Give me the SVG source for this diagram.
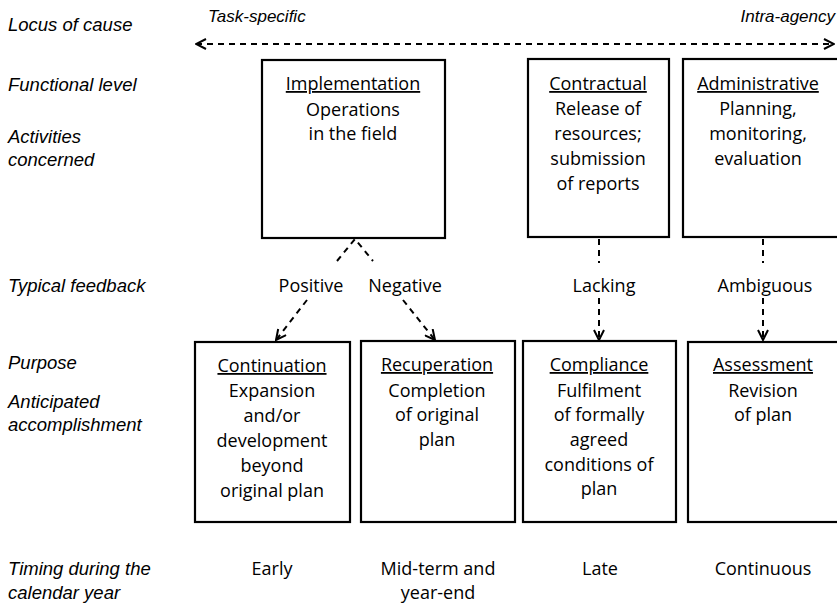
<svg xmlns="http://www.w3.org/2000/svg" width="837" height="604" viewBox="0 0 837 604">
<defs>
<style>
text{font-family:"Open Sans","Liberation Sans",Arial,sans-serif;font-size:18px;fill:#000}
.lab{font-family:"Liberation Sans",Arial,sans-serif;font-size:18.5px;font-style:italic;text-anchor:start}
.sm{font-size:17px}
.end{text-anchor:end}
.c{text-anchor:middle}
.u{text-decoration:underline}
.box{fill:#fff;stroke:#000;stroke-width:2.2}
.dash{fill:none;stroke:#000;stroke-width:2;stroke-dasharray:6,5}
</style>
<marker id="ah" viewBox="0 0 12 12" refX="11" refY="6" markerWidth="12" markerHeight="12" markerUnits="userSpaceOnUse" orient="auto-start-reverse">
<path d="M1,1 L11,6 L1,11" fill="none" stroke="#000" stroke-width="2"/>
</marker>
</defs>
<rect width="837" height="604" fill="#fff"/>
<g id="row-labels">
<text class="lab" x="8" y="31">Locus of cause</text>
<text class="lab" x="8" y="91">Functional level</text>
<text class="lab" x="8" y="143">Activities</text>
<text class="lab" x="8" y="166">concerned</text>
<text class="lab" x="8" y="292">Typical feedback</text>
<text class="lab" x="8" y="369">Purpose</text>
<text class="lab" x="8" y="408">Anticipated</text>
<text class="lab" x="8" y="431">accomplishment</text>
<text class="lab" x="8" y="575">Timing during the</text>
<text class="lab" x="8" y="599">calendar year</text>
<text class="lab sm" x="208" y="22">Task-specific</text>
<text class="lab sm end" x="835" y="22">Intra-agency</text>
</g>
<g id="connectors">
<line class="dash" x1="196" y1="44" x2="834" y2="44" stroke-dasharray="10,5" marker-start="url(#ah)" marker-end="url(#ah)"/>
<polyline class="dash" points="337,261 355,239 373,261"/>
<line class="dash" x1="307" y1="300" x2="276" y2="340" marker-end="url(#ah)"/>
<line class="dash" x1="403" y1="300" x2="435" y2="340" marker-end="url(#ah)"/>
<line class="dash" x1="599" y1="239" x2="599" y2="263"/>
<line class="dash" x1="599" y1="298" x2="599" y2="340" marker-end="url(#ah)"/>
<line class="dash" x1="763" y1="239" x2="763" y2="263"/>
<line class="dash" x1="763" y1="298" x2="763" y2="340" marker-end="url(#ah)"/>
</g>
<g id="feedback-labels">
<text class="c" x="311" y="292">Positive</text>
<text class="c" x="405" y="292">Negative</text>
<text class="c" x="604" y="292">Lacking</text>
<text class="c" x="765" y="292">Ambiguous</text>
</g>
<g id="implementation">
<rect class="box" x="262" y="60" width="183" height="178"/>
<text class="c u" x="353" y="90">Implementation</text>
<text class="c" x="353" y="116">Operations</text>
<text class="c" x="353" y="140">in the field</text>
</g>
<g id="contractual">
<rect class="box" x="528" y="59" width="141" height="178"/>
<text class="c u" x="598" y="90">Contractual</text>
<text class="c" x="598" y="115">Release of</text>
<text class="c" x="598" y="140">resources;</text>
<text class="c" x="598" y="165">submission</text>
<text class="c" x="598" y="190">of reports</text>
</g>
<g id="administrative">
<rect class="box" x="683" y="59" width="160" height="178"/>
<text class="c u" x="758" y="90">Administrative</text>
<text class="c" x="758" y="115">Planning,</text>
<text class="c" x="758" y="140">monitoring,</text>
<text class="c" x="758" y="165">evaluation</text>
</g>
<g id="continuation">
<rect class="box" x="195" y="342" width="155" height="180"/>
<text class="c u" x="272" y="372">Continuation</text>
<text class="c" x="272" y="397">Expansion</text>
<text class="c" x="272" y="422">and/or</text>
<text class="c" x="272" y="447">development</text>
<text class="c" x="272" y="472">beyond</text>
<text class="c" x="272" y="497">original plan</text>
</g>
<g id="recuperation">
<rect class="box" x="361" y="341" width="154" height="181"/>
<text class="c u" x="437" y="371">Recuperation</text>
<text class="c" x="437" y="397">Completion</text>
<text class="c" x="437" y="421">of original</text>
<text class="c" x="437" y="446">plan</text>
</g>
<g id="compliance">
<rect class="box" x="523" y="341" width="153" height="181"/>
<text class="c u" x="599" y="371">Compliance</text>
<text class="c" x="599" y="397">Fulfilment</text>
<text class="c" x="599" y="421">of formally</text>
<text class="c" x="599" y="446">agreed</text>
<text class="c" x="599" y="471">conditions of</text>
<text class="c" x="599" y="495">plan</text>
</g>
<g id="assessment">
<rect class="box" x="688" y="342" width="155" height="180"/>
<text class="c u" x="763" y="371">Assessment</text>
<text class="c" x="763" y="397">Revision</text>
<text class="c" x="763" y="421">of plan</text>
</g>
<g id="timing">
<text class="c" x="272" y="575">Early</text>
<text class="c" x="438" y="575">Mid-term and</text>
<text class="c" x="438" y="599">year-end</text>
<text class="c" x="600" y="575">Late</text>
<text class="c" x="763" y="575">Continuous</text>
</g>
</svg>
